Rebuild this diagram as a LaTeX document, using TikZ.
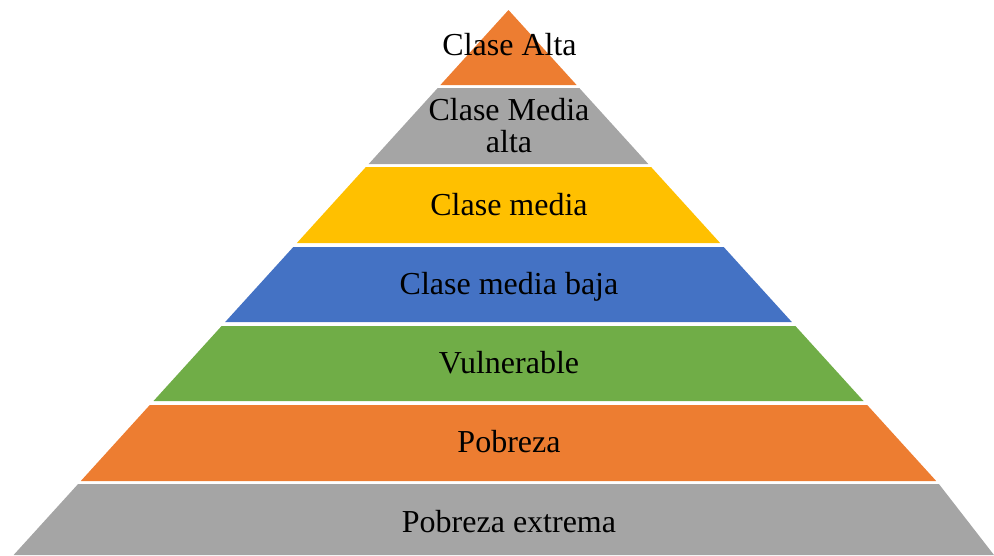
\documentclass[tikz,border=0pt]{standalone}
\usepackage{fontspec}
\setmainfont{Liberation Serif}
\definecolor{offorange}{HTML}{ED7D31}
\definecolor{offgray}{HTML}{A5A5A5}
\definecolor{offyellow}{HTML}{FFC000}
\definecolor{offblue}{HTML}{4472C4}
\definecolor{offgreen}{HTML}{70AD47}
\begin{document}
\begin{tikzpicture}[x=1pt,y=-1pt,
  label text/.style={font=\fontsize{32}{32}\selectfont, text=black, inner sep=0pt, align=center}]
\useasboundingbox (0,0) rectangle (994,555);
% bands
\fill[offorange] (508.5,10) -- (576.6,85) -- (440.4,85) -- cycle;
\fill[offgray]   (437.7,88) -- (579.3,88) -- (648.3,164) -- (368.7,164) -- cycle;
\fill[offyellow] (365.9,167) -- (651.1,167) -- (720.1,243) -- (296.9,243) -- cycle;
\fill[offblue]   (293.3,247) -- (723.7,247) -- (791.8,322) -- (225.2,322) -- cycle;
\fill[offgreen]  (221.6,326) -- (795.4,326) -- (863.5,401) -- (153.5,401) -- cycle;
\fill[offorange] (149.8,405) -- (867.2,405) -- (936.2,481) -- (80.8,481) -- cycle;
\fill[offgray]   (78.1,484) -- (938.9,484) -- (994,555) -- (13.6,555) -- cycle;
% labels
\node[label text, anchor=base] (l1) at (509.5,55) {Clase Alta};
\node[label text] (l2) at (509,126) {Clase Media\\alta};
\node[label text, anchor=base] (l3) at (509,215) {Clase media};
\node[label text, anchor=base] (l4) at (509,294) {Clase media baja};
\node[label text, anchor=base] (l5) at (509,373) {Vulnerable};
\node[label text, anchor=base] (l6) at (509,452) {Pobreza};
\node[label text, anchor=base] (l7) at (509,532) {Pobreza extrema};
\end{tikzpicture}
\end{document}
